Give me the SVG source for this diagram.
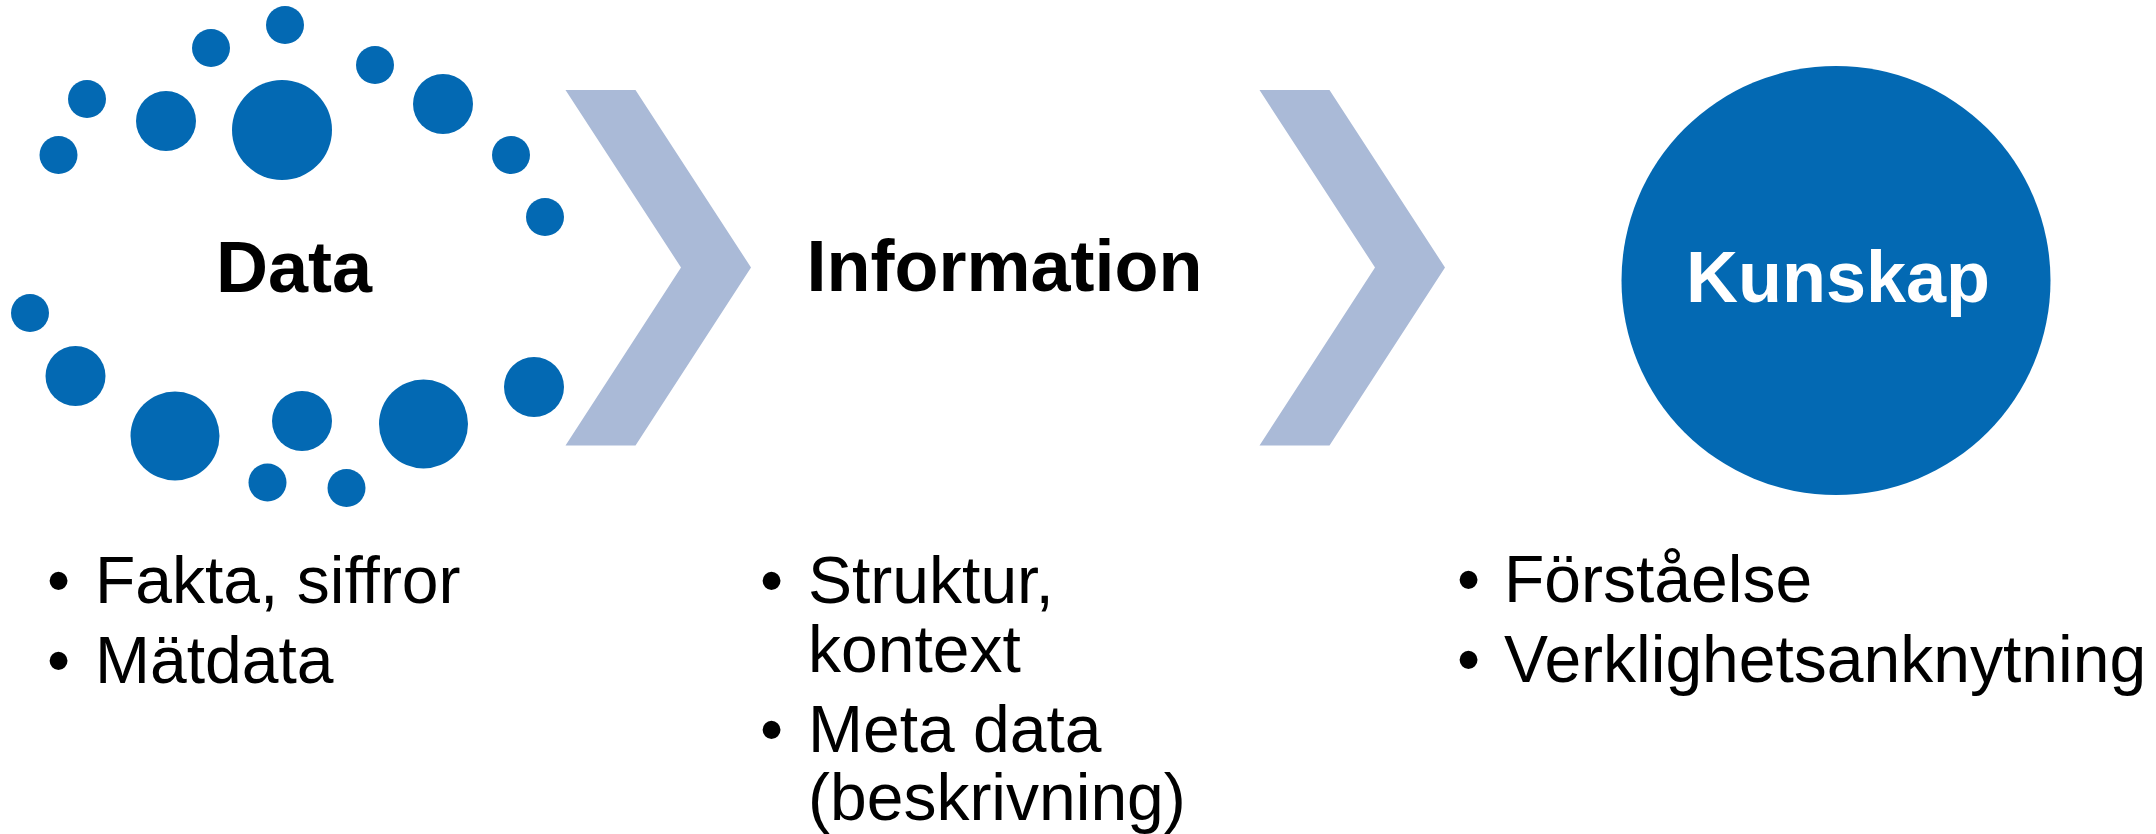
<svg xmlns="http://www.w3.org/2000/svg" width="2156" height="834" viewBox="0 0 2156 834">
<style>
.dot{fill:#0369B3}
.chev{fill:#AABAD7}
.title{font-family:"Liberation Sans",Arial,sans-serif;font-weight:bold;font-size:72px;fill:#000}
.body{font-family:"Liberation Sans",Arial,sans-serif;font-size:66px;fill:#000}
</style>
<rect width="2156" height="834" fill="#fff"/>
<g id="data">
<circle class="dot" cx="285" cy="25" r="19"/>
<circle class="dot" cx="211" cy="48" r="19"/>
<circle class="dot" cx="375" cy="65" r="19"/>
<circle class="dot" cx="87" cy="99" r="19"/>
<circle class="dot" cx="166" cy="121" r="30"/>
<circle class="dot" cx="282" cy="130" r="50"/>
<circle class="dot" cx="443" cy="104" r="30"/>
<circle class="dot" cx="58.5" cy="155" r="19"/>
<circle class="dot" cx="511" cy="155" r="19"/>
<circle class="dot" cx="545" cy="217" r="19"/>
<circle class="dot" cx="30" cy="313" r="19"/>
<circle class="dot" cx="75.5" cy="376" r="30"/>
<circle class="dot" cx="175" cy="436" r="44.5"/>
<circle class="dot" cx="302" cy="421" r="30"/>
<circle class="dot" cx="423.5" cy="424" r="44.5"/>
<circle class="dot" cx="534" cy="387" r="30"/>
<circle class="dot" cx="267.5" cy="482.5" r="19"/>
<circle class="dot" cx="346.5" cy="488" r="19"/>
<text class="title" x="294" y="291.5" text-anchor="middle">Data</text>
<text class="body" x="47" y="602.5">•</text>
<text class="body" x="95" y="602.5">Fakta, siffror</text>
<text class="body" x="47" y="682.5">•</text>
<text class="body" x="95" y="682.5">Mätdata</text>
</g>
<g id="connectors">
<polygon class="chev" points="565.5,90 635.5,90 751,267.5 635.5,445.5 565.5,445.5 681,267.5"/>
<polygon class="chev" points="1259.5,90 1329.5,90 1445,267.5 1329.5,445.5 1259.5,445.5 1375,267.5"/>
</g>
<g id="information">
<text class="title" x="806.5" y="290.5">Information</text>
<text class="body" x="760" y="602.5">•</text>
<text class="body" x="808" y="602.5">Struktur,</text>
<text class="body" x="808" y="671.5">kontext</text>
<text class="body" x="760" y="751.5">•</text>
<text class="body" x="808" y="751.5">Meta data</text>
<text class="body" x="808" y="820">(beskrivning)</text>
</g>
<g id="kunskap">
<circle class="dot" cx="1836" cy="280.5" r="214.5"/>
<text class="title" x="1838" y="302" text-anchor="middle" style="fill:#fff">Kunskap</text>
<text class="body" x="1457" y="602">•</text>
<text class="body" x="1504" y="602">Förståelse</text>
<text class="body" x="1457" y="682">•</text>
<text class="body" x="1504" y="682">Verklighetsanknytning</text>
</g>
</svg>
